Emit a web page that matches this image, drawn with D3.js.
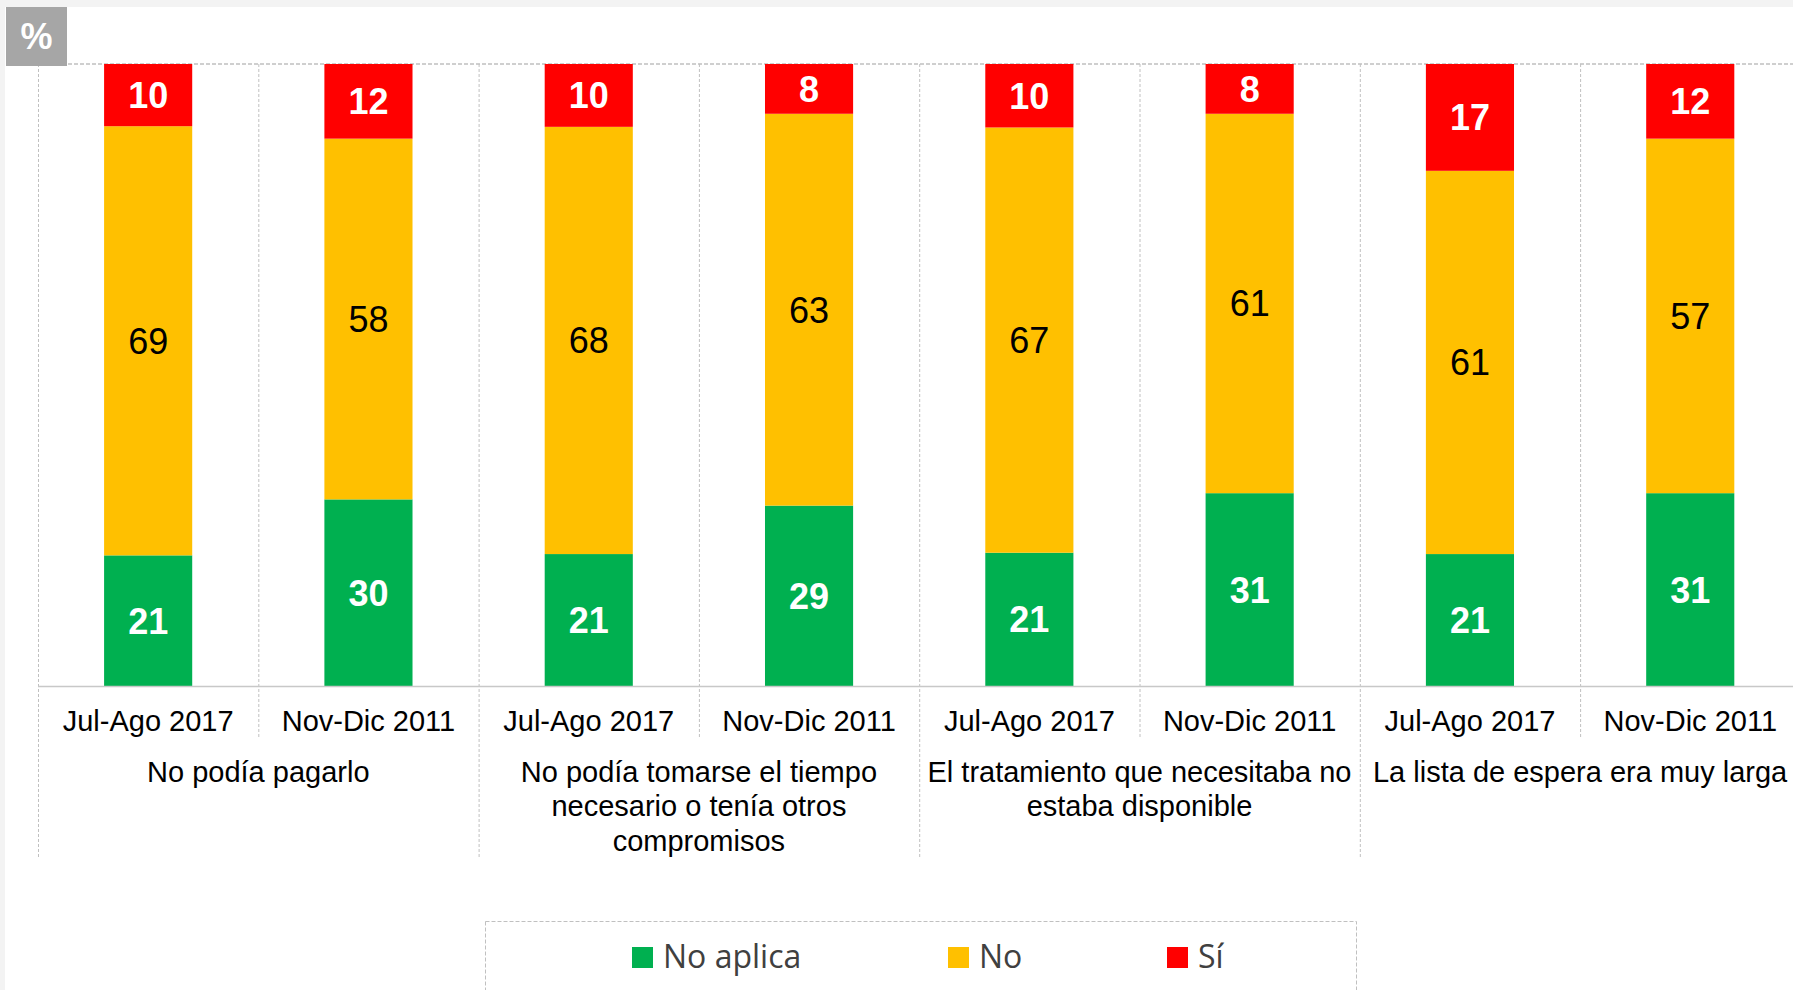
<!DOCTYPE html>
<html>
<head>
	<meta charset="utf-8">
	<title>Stacked Bars</title>
	<script src="https://d3js.org/d3.v7.min.js" charset="utf-8"></script>
	<style>
		body { margin: 0; background: #f3f3f3; }
		svg { display: block; }
	</style>
</head>
<body>
	<svg width="1793" height="990"></svg>
	<script>
		// groups (reasons) and the two survey periods
		var categories = [
			"No podía pagarlo",
			"No podía tomarse el tiempo\nnecesario o tenía otros\ncompromisos",
			"El tratamiento que necesitaba no\nestaba disponible",
			"La lista de espera era muy larga"
		];
		var periods = ["Jul-Ago 2017", "Nov-Dic 2011"];
		var seriesNames = ["No aplica", "No", "Sí"];

		// one value per bar, in order group by group, period by period
		var noAplica = [21, 30, 21, 29, 21, 31, 21, 31];
		var no       = [69, 58, 68, 63, 67, 61, 61, 57];
		var si       = [10, 12, 10,  8, 10,  8, 17, 12];

		var colors = ["#00b050", "#ffc000", "#ff0000"];

		const plotLeft = 38;
		const groupW = 440.6;
		const plotTop = 64;
		const base = 686;

		var svg = d3.select('svg');

		// white page with thin gray border top/left
		svg.append('rect').attr('x', 5).attr('y', 7)
			.attr('width', 1793).attr('height', 990).attr('fill', '#fff');

		var rows = [];
		categories.forEach(function(c, gi) {
			periods.forEach(function(p, pi) {
				var i = gi * periods.length + pi;
				rows.push({ group: c, period: p, "No aplica": noAplica[i], "No": no[i], "Sí": si[i] });
			});
		});

		const x0 = d3.scaleBand()
			.domain(categories)
			.range([plotLeft, plotLeft + groupW * categories.length]);

		const x1 = d3.scaleBand()
			.domain(periods)
			.range([0, x0.bandwidth()])
			.paddingInner(0.6)
			.paddingOuter(0.3);

		const y = d3.scaleLinear()
			.domain([0, 1])
			.range([base, plotTop]);

		const stack = d3.stack()
			.keys(seriesNames)
			.offset(d3.stackOffsetExpand);
		const stacked = stack(rows);

		const grid = svg.append('g')
			.attr('stroke', '#c0c0c0')
			.attr('fill', 'none');

		// top dashed line
		grid.append('line')
			.attr('x1', plotLeft).attr('x2', 1793)
			.attr('y1', plotTop).attr('y2', plotTop)
			.attr('stroke-width', 1.5)
			.attr('stroke-dasharray', '4,2');

		// group separators (long) and period separators (short)
		var edges = categories.map(function(c) { return x0(c); });
		edges.push(x0.range()[1]);
		grid.selectAll('.gsep')
			.data(edges)
			.enter()
			.append('line')
			.attr('x1', function(d) { return d + 0.5; })
			.attr('x2', function(d) { return d + 0.5; })
			.attr('y1', plotTop).attr('y2', 857)
			.attr('stroke-dasharray', '3,2');

		grid.selectAll('.psep')
			.data(categories)
			.enter()
			.append('line')
			.attr('x1', function(d) { return x0(d) + x0.bandwidth() / 2 + 0.5; })
			.attr('x2', function(d) { return x0(d) + x0.bandwidth() / 2 + 0.5; })
			.attr('y1', plotTop).attr('y2', 738)
			.attr('stroke-dasharray', '3,2');

		// bars
		const layer = svg.append('g')
			.selectAll('g')
			.data(stacked)
			.enter()
			.append('g')
			.attr('fill', function(d, i) { return colors[i]; });

		layer.selectAll('rect')
			.data(function(d) { return d; })
			.enter()
			.append('rect')
			.attr('x', function(d) { return x0(d.data.group) + x1(d.data.period); })
			.attr('y', function(d) { return y(d[1]); })
			.attr('height', function(d) { return y(d[0]) - y(d[1]); })
			.attr('width', x1.bandwidth());

		// value labels
		layer.selectAll('text')
			.data(function(d) { return d.map(function(v) { v.key = d.key; return v; }); })
			.enter()
			.append('text')
			.attr('x', function(d) { return x0(d.data.group) + x1(d.data.period) + x1.bandwidth() / 2; })
			.attr('y', function(d) { return (y(d[0]) + y(d[1])) / 2; })
			.attr('dy', '0.36em')
			.attr('text-anchor', 'middle')
			.attr('font-family', '"Liberation Sans", Arial, sans-serif')
			.attr('font-size', 36)
			.attr('font-weight', function(d) { return d.key === "No" ? 'normal' : 'bold'; })
			.attr('fill', function(d) { return d.key === "No" ? '#000' : '#fff'; })
			.text(function(d) { return d.data[d.key]; });

		// baseline
		svg.append('line')
			.attr('x1', plotLeft).attr('x2', 1793)
			.attr('y1', base + 0.5).attr('y2', base + 0.5)
			.attr('stroke', '#c8c8c8')
			.attr('stroke-width', 1.5);

		// period tick labels, one axis per group
		categories.forEach(function(c) {
			const ax = svg.append('g')
				.attr('transform', `translate(${x0(c)}, ${base})`)
				.call(d3.axisBottom(x1).tickSize(0).tickPadding(24));
			ax.select('.domain').remove();
			ax.selectAll('text')
				.attr('font-family', '"Liberation Sans", Arial, sans-serif')
				.attr('font-size', 29)
				.attr('fill', '#000');
		});

		// group labels
		const glab = svg.append('g')
			.attr('font-family', '"Liberation Sans", Arial, sans-serif')
			.attr('font-size', 29)
			.attr('text-anchor', 'middle')
			.attr('fill', '#000');
		categories.forEach(function(c) {
			const t = glab.append('text')
				.attr('x', x0(c) + x0.bandwidth() / 2)
				.attr('y', 782);
			c.split('\n').forEach(function(line, i) {
				t.append('tspan')
					.attr('x', x0(c) + x0.bandwidth() / 2)
					.attr('dy', i === 0 ? 0 : 34.3)
					.text(line);
			});
		});

		// % badge
		svg.append('rect')
			.attr('x', 6).attr('y', 7).attr('width', 61).attr('height', 59)
			.attr('fill', '#a6a6a6');
		svg.append('text')
			.attr('x', 36.5).attr('y', 49)
			.attr('text-anchor', 'middle')
			.attr('font-family', '"Liberation Sans", Arial, sans-serif')
			.attr('font-weight', 'bold')
			.attr('font-size', 36)
			.attr('fill', '#fff')
			.text('%');

		// legend
		svg.append('rect')
			.attr('x', 485.5).attr('y', 921.5)
			.attr('width', 871).attr('height', 100)
			.attr('fill', 'none')
			.attr('stroke', '#c0c0c0')
			.attr('stroke-dasharray', '4,2');

		var legendX = [632, 948, 1167];
		const leg = svg.append('g')
			.selectAll('g')
			.data(seriesNames)
			.enter()
			.append('g')
			.attr('transform', function(d, i) { return `translate(${legendX[i]}, 947)`; });
		leg.append('rect')
			.attr('width', 21).attr('height', 21)
			.attr('fill', function(d, i) { return colors[i]; });
		leg.append('text')
			.attr('x', 31).attr('y', 21)
			.attr('font-family', '"Open Sans", sans-serif')
			.attr('font-size', 32)
			.attr('fill', '#404040')
			.text(function(d) { return d; });
	</script>
</body>
</html>
